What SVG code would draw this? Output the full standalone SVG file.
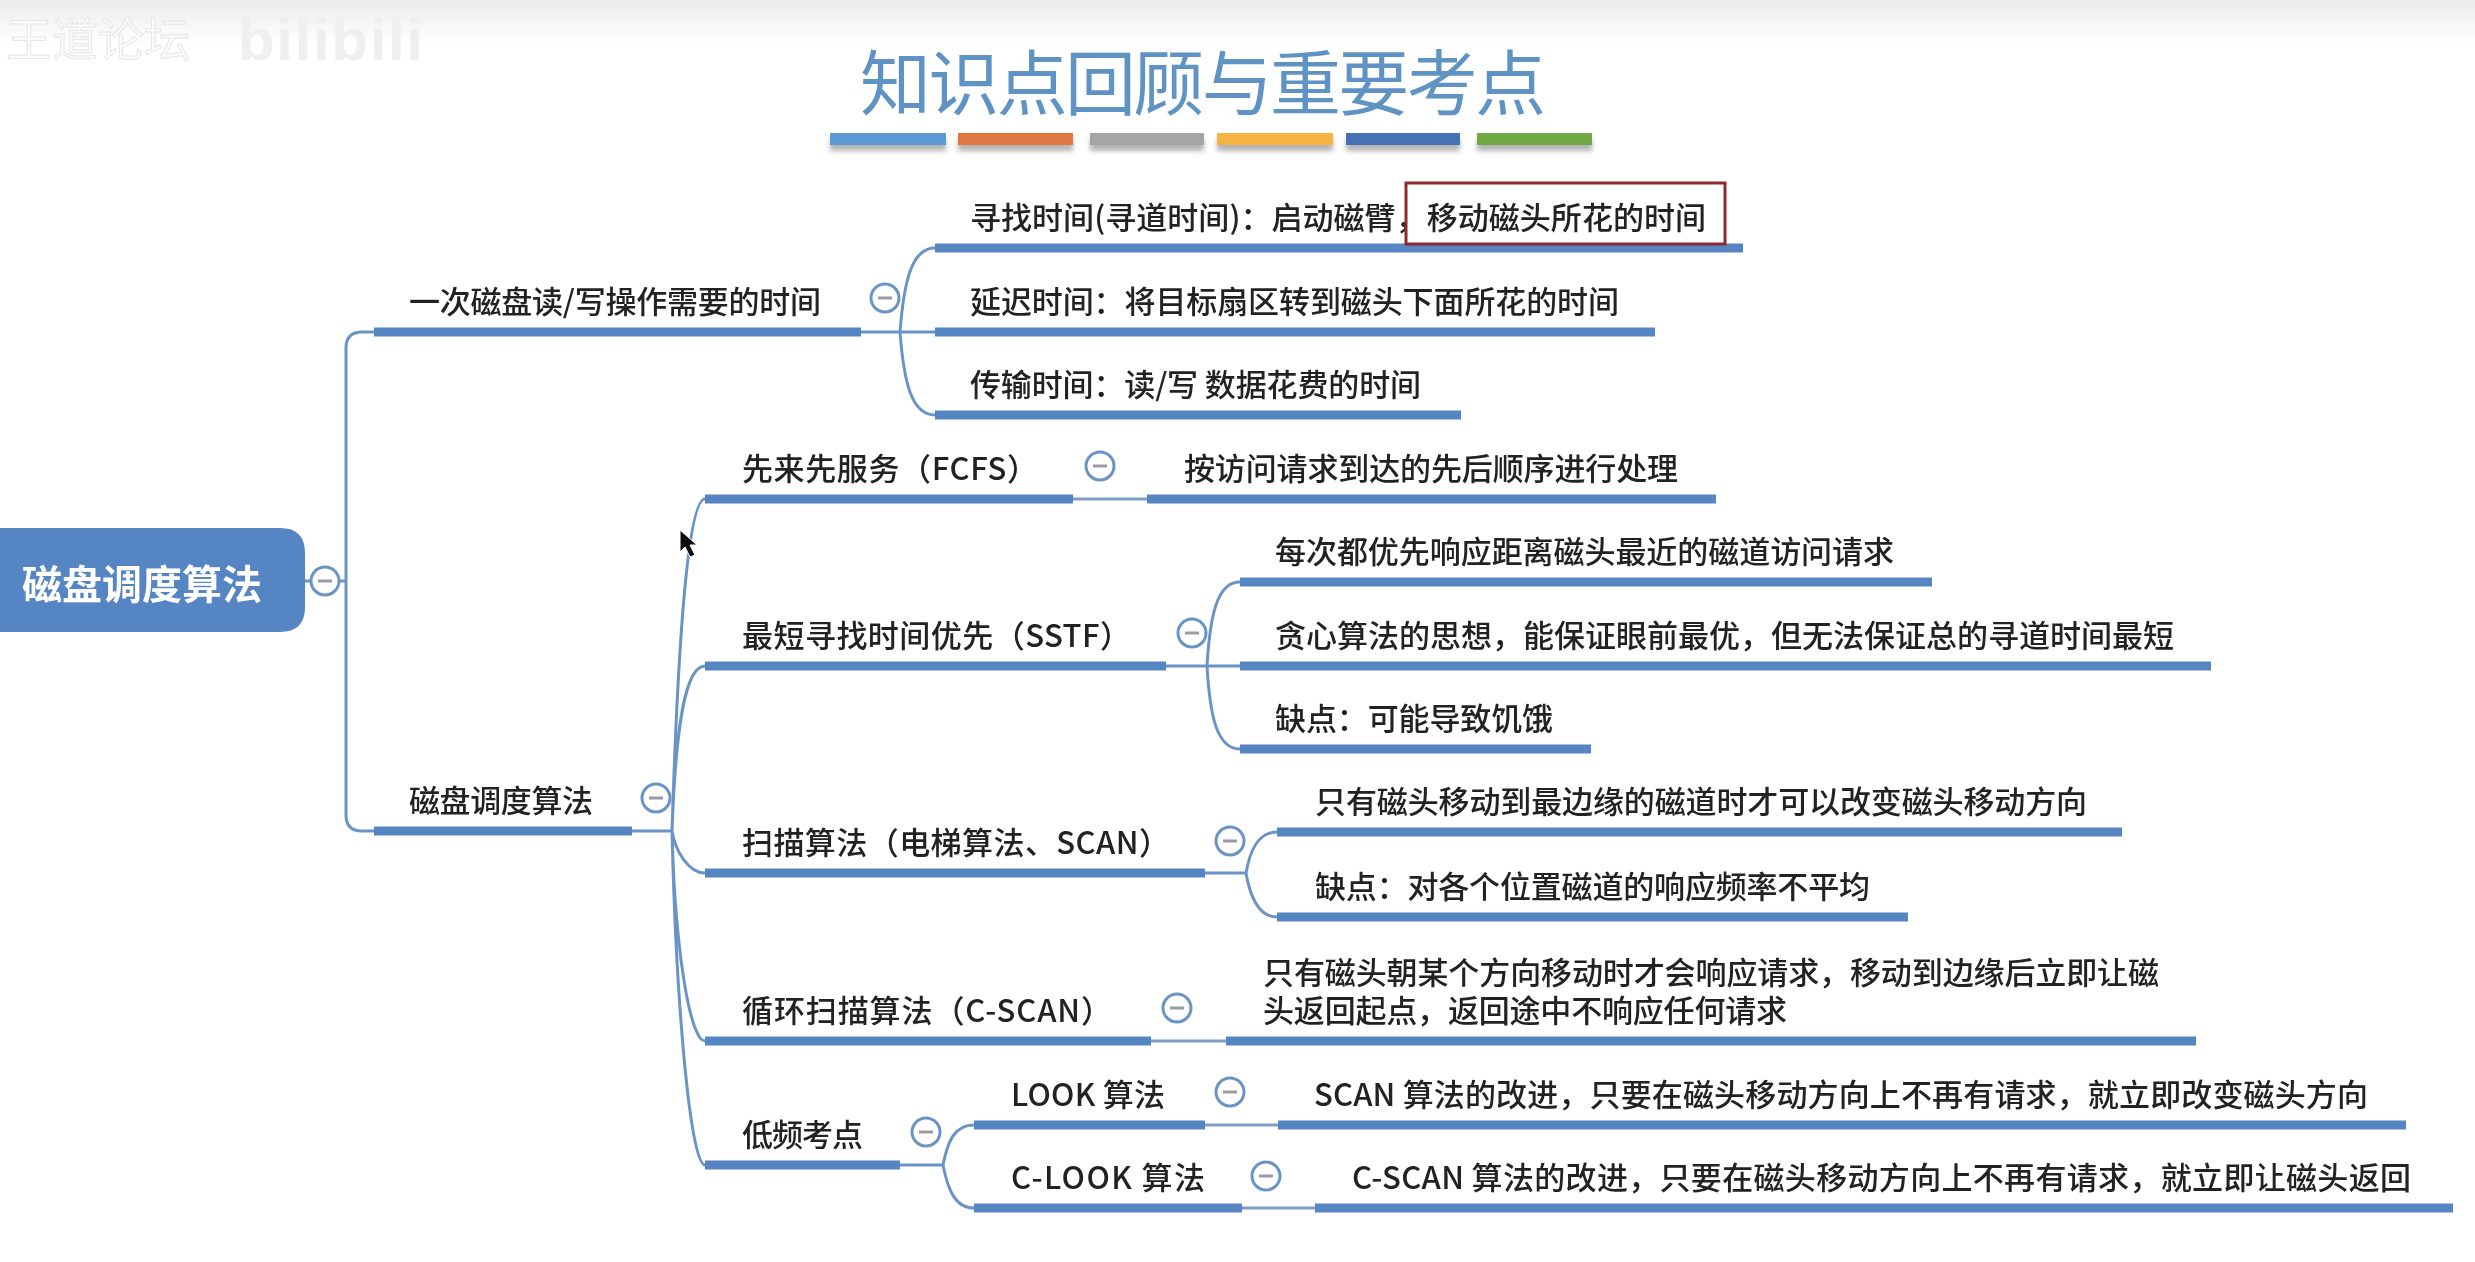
<svg xmlns="http://www.w3.org/2000/svg" width="2475" height="1262" viewBox="0 0 2475 1262">
<style>
text{font-family:"Noto Sans CJK SC","Noto Sans",sans-serif}
.t{font-size:31px;fill:#222;font-weight:500}
.b{stroke:#5485c3;stroke-width:9;fill:none}
.c{stroke:#6b94c6;stroke-width:3;fill:none}
.s{stroke:#7f9cc4;stroke-width:3;fill:none}
.k circle,circle.k{fill:#fff;stroke:#6b94c6;stroke-width:3}
.m{stroke:#9a9aa5;stroke-width:3}
</style>
<defs>
<linearGradient id="top" x1="0" y1="0" x2="0" y2="1"><stop offset="0" stop-color="#ececec"/><stop offset="1" stop-color="#fff"/></linearGradient>
<filter id="sh" x="-10%" y="-50%" width="120%" height="250%"><feGaussianBlur stdDeviation="2.5"/></filter>
<filter id="soft" x="0" y="0" width="100%" height="100%" filterUnits="userSpaceOnUse"><feGaussianBlur stdDeviation="0.6"/></filter>
</defs>
<rect width="2475" height="1262" fill="#fff"/>
<rect width="2475" height="45" fill="url(#top)"/>
<g filter="url(#soft)">
<text x="6" y="56" font-size="46" fill="#fbfbfb" stroke="#e6e6e6" stroke-width="1">王道论坛</text>
<text x="238" y="60" font-size="60" font-weight="700" fill="#efefef" textLength="185" style="font-family:'Liberation Sans',sans-serif">bilibili</text>

<g id="title">
<text x="860" y="109" font-size="71" fill="#5f93c4" textLength="686">知识点回顾与重要考点</text>
<g fill="#777" opacity=".55" filter="url(#sh)">
<rect x="830" y="139" width="116" height="12"/><rect x="958" y="139" width="115" height="12"/><rect x="1090" y="139" width="114" height="12"/><rect x="1217" y="139" width="116" height="12"/><rect x="1346" y="139" width="114" height="12"/><rect x="1477" y="139" width="115" height="12"/>
</g>
<rect x="830" y="133" width="116" height="12" fill="#5b9bd5"/>
<rect x="958" y="133" width="115" height="12" fill="#e0773f"/>
<rect x="1090" y="133" width="114" height="12" fill="#a5a5a5"/>
<rect x="1217" y="133" width="116" height="12" fill="#f5b53f"/>
<rect x="1346" y="133" width="114" height="12" fill="#4472b4"/>
<rect x="1477" y="133" width="115" height="12" fill="#70a845"/>
</g>

<g id="connectors">
<path class="c" d="M305 581H346M374 332H362Q346 332 346 348V815Q346 831 362 831H374"/>
<path class="c" d="M861 332H935M935 248C912 248 904 280 900 332C904 384 912 415 935 415"/>
<path class="c" d="M632 831H672M705 499C688 499 678 640 672 831C676 1000 690 1165 705 1165M705 666C686 666 676 720 672 831C675 950 690 1041 705 1041M672 831C675 850 688 873 705 873"/>
<path class="s" d="M1073 499H1147M1151 1041H1226M1205 1125H1278M1242 1208H1315"/>
<path class="c" d="M1166 666H1240M1240 582C1217 582 1210 615 1207 666C1210 717 1217 749 1240 749"/>
<path class="c" d="M1205 873H1246M1277 832C1258 832 1250 850 1246 873C1250 896 1258 917 1277 917"/>
<path class="c" d="M900 1165H943M974 1125C955 1125 948 1140 943 1165C948 1190 955 1208 974 1208"/>
</g>

<g id="root">
<path d="M-2 528H280Q305 528 305 553V607Q305 632 280 632H-2Z" fill="#5485c3"/>
<text x="22" y="599" font-size="40" font-weight="700" fill="#fff" textLength="240">磁盘调度算法</text>
<circle class="k" cx="325" cy="581" r="14"/><line class="m" x1="318" y1="581" x2="332" y2="581"/>
</g>

<g id="n1"><line class="b" x1="374" y1="332" x2="861" y2="332"/><text class="t" x="409" y="313" textLength="412">一次磁盘读/写操作需要的时间</text>
<circle class="k" cx="885" cy="298" r="14"/><line class="m" x1="878" y1="298" x2="892" y2="298"/></g>
<g id="n1a"><line class="b" x1="935" y1="248" x2="1743" y2="248"/><text class="t" x="970" y="229" textLength="736">寻找时间(寻道时间)：启动磁臂，移动磁头所花的时间</text>
<rect x="1406" y="183" width="319" height="61" fill="none" stroke="#8e2a2e" stroke-width="3"/></g>
<g id="n1b"><line class="b" x1="935" y1="332" x2="1655" y2="332"/><text class="t" x="970" y="313" textLength="649">延迟时间：将目标扇区转到磁头下面所花的时间</text></g>
<g id="n1c"><line class="b" x1="935" y1="415" x2="1461" y2="415"/><text class="t" x="970" y="396" textLength="451">传输时间：读/写 数据花费的时间</text></g>

<g id="n2"><line class="b" x1="374" y1="831" x2="632" y2="831"/><text class="t" x="409" y="812" textLength="184">磁盘调度算法</text>
<circle class="k" cx="656" cy="798" r="14"/><line class="m" x1="649" y1="798" x2="663" y2="798"/></g>

<g id="fcfs"><line class="b" x1="705" y1="499" x2="1073" y2="499"/><text class="t" x="742" y="480" textLength="296">先来先服务（FCFS）</text>
<circle class="k" cx="1100" cy="466" r="14"/><line class="m" x1="1093" y1="466" x2="1107" y2="466"/></g>
<g id="fcfs1"><line class="b" x1="1147" y1="499" x2="1716" y2="499"/><text class="t" x="1184" y="480" textLength="494">按访问请求到达的先后顺序进行处理</text></g>

<g id="sstf"><line class="b" x1="705" y1="666" x2="1166" y2="666"/><text class="t" x="742" y="647" textLength="389">最短寻找时间优先（SSTF）</text>
<circle class="k" cx="1192" cy="633" r="14"/><line class="m" x1="1185" y1="633" x2="1199" y2="633"/></g>
<g id="sstf1"><line class="b" x1="1240" y1="582" x2="1932" y2="582"/><text class="t" x="1275" y="563" textLength="619">每次都优先响应距离磁头最近的磁道访问请求</text></g>
<g id="sstf2"><line class="b" x1="1240" y1="666" x2="2211" y2="666"/><text class="t" x="1275" y="647" textLength="899">贪心算法的思想，能保证眼前最优，但无法保证总的寻道时间最短</text></g>
<g id="sstf3"><line class="b" x1="1240" y1="749" x2="1591" y2="749"/><text class="t" x="1275" y="730" textLength="278">缺点：可能导致饥饿</text></g>

<g id="scan"><line class="b" x1="705" y1="873" x2="1205" y2="873"/><text class="t" x="742" y="854" textLength="428">扫描算法（电梯算法、SCAN）</text>
<circle class="k" cx="1230" cy="841" r="14"/><line class="m" x1="1223" y1="841" x2="1237" y2="841"/></g>
<g id="scan1"><line class="b" x1="1277" y1="832" x2="2122" y2="832"/><text class="t" x="1315" y="813" textLength="772">只有磁头移动到最边缘的磁道时才可以改变磁头移动方向</text></g>
<g id="scan2"><line class="b" x1="1277" y1="917" x2="1908" y2="917"/><text class="t" x="1315" y="898" textLength="555">缺点：对各个位置磁道的响应频率不平均</text></g>

<g id="cscan"><line class="b" x1="705" y1="1041" x2="1151" y2="1041"/><text class="t" x="742" y="1022" textLength="370">循环扫描算法（C-SCAN）</text>
<circle class="k" cx="1177" cy="1008" r="14"/><line class="m" x1="1170" y1="1008" x2="1184" y2="1008"/></g>
<g id="cscan1"><line class="b" x1="1226" y1="1041" x2="2196" y2="1041"/><text class="t" x="1263" y="984" textLength="896">只有磁头朝某个方向移动时才会响应请求，移动到边缘后立即让磁</text><text class="t" x="1263" y="1022" textLength="524">头返回起点，返回途中不响应任何请求</text></g>

<g id="low"><line class="b" x1="705" y1="1165" x2="900" y2="1165"/><text class="t" x="742" y="1146" textLength="121">低频考点</text>
<circle class="k" cx="926" cy="1132" r="14"/><line class="m" x1="919" y1="1132" x2="933" y2="1132"/></g>
<g id="look"><line class="b" x1="974" y1="1125" x2="1205" y2="1125"/><text class="t" x="1011" y="1106" textLength="154">LOOK 算法</text>
<circle class="k" cx="1230" cy="1092" r="14"/><line class="m" x1="1223" y1="1092" x2="1237" y2="1092"/></g>
<g id="look1"><line class="b" x1="1278" y1="1125" x2="2406" y2="1125"/><text class="t" x="1314" y="1106" textLength="1054">SCAN 算法的改进，只要在磁头移动方向上不再有请求，就立即改变磁头方向</text></g>
<g id="clook"><line class="b" x1="974" y1="1208" x2="1242" y2="1208"/><text class="t" x="1011" y="1189" textLength="194">C-LOOK 算法</text>
<circle class="k" cx="1266" cy="1176" r="14"/><line class="m" x1="1259" y1="1176" x2="1273" y2="1176"/></g>
<g id="clook1"><line class="b" x1="1315" y1="1208" x2="2453" y2="1208"/><text class="t" x="1352" y="1189" textLength="1059">C-SCAN 算法的改进，只要在磁头移动方向上不再有请求，就立即让磁头返回</text></g>

<path id="cursor" d="M680 530L680 552L685 547L690 557L695 555L690 545L697 545Z" fill="#111" stroke="#fff" stroke-width="1"/>
</g>
</svg>
